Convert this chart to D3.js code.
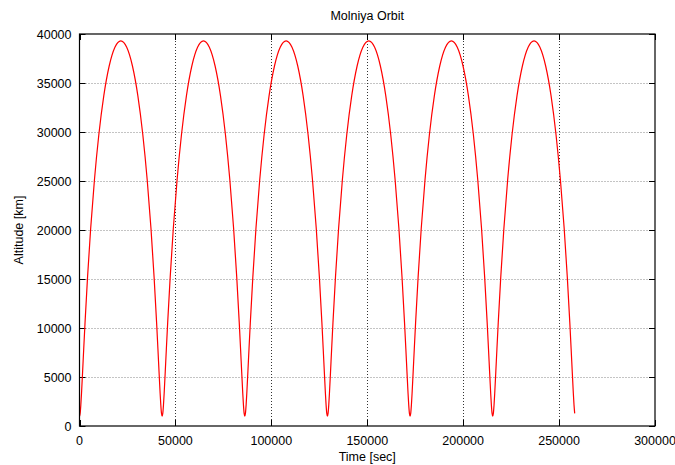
<!DOCTYPE html>
<html>
<head>
<meta charset="utf-8">
<script src="https://cdn.jsdelivr.net/npm/d3@7"></script>
<style>
  body { margin: 0; background: #fff; }
  svg { font-family: "Liberation Sans", Arial, sans-serif; }
</style>
</head>
<body>
<div id="chart"></div>
<script>
// time since start [sec], one line per orbit
const timeSec = [
  0, 337, 700, 1115, 1885, 2893, 4194, 5820, 7784, 10073, 12655, 15475, 18464, 21540, 24616, 27605, 30425, 33007, 35296, 37260, 38886, 40187, 41195, 41965, 42380, 42743,
  43080, 43417, 43780, 44195, 44965, 45973, 47274, 48900, 50864, 53153, 55735, 58555, 61544, 64620, 67696, 70685, 73505, 76087, 78376, 80340, 81966, 83267, 84275, 85045, 85460, 85823,
  86160, 86497, 86860, 87275, 88045, 89053, 90354, 91980, 93944, 96233, 98815, 101635, 104624, 107700, 110776, 113765, 116585, 119167, 121456, 123420, 125046, 126347, 127355, 128125, 128540, 128903,
  129240, 129577, 129940, 130355, 131125, 132133, 133434, 135060, 137024, 139313, 141895, 144715, 147704, 150780, 153856, 156845, 159665, 162247, 164536, 166500, 168126, 169427, 170435, 171205, 171620, 171983,
  172320, 172657, 173020, 173435, 174205, 175213, 176514, 178140, 180104, 182393, 184975, 187795, 190784, 193860, 196936, 199925, 202745, 205327, 207616, 209580, 211206, 212507, 213515, 214285, 214700, 215063,
  215400, 215737, 216100, 216515, 217285, 218293, 219594, 221220, 223184, 225473, 228055, 230875, 233864, 236940, 240016, 243005, 245825, 248407, 250696, 252660, 254286, 255587, 256595, 257365, 257780, 258143
];

// altitude [km]
const altitudeKm = [
  999, 1290, 2154, 3565, 6609, 10575, 15194, 20150, 25107, 29725, 33692, 36735, 38648, 39300, 38648, 36735, 33692, 29725, 25107, 20150, 15194, 10575, 6609, 3565, 2154, 1290,
  999, 1290, 2154, 3565, 6609, 10575, 15194, 20150, 25107, 29725, 33692, 36735, 38648, 39300, 38648, 36735, 33692, 29725, 25107, 20150, 15194, 10575, 6609, 3565, 2154, 1290,
  999, 1290, 2154, 3565, 6609, 10575, 15194, 20150, 25107, 29725, 33692, 36735, 38648, 39300, 38648, 36735, 33692, 29725, 25107, 20150, 15194, 10575, 6609, 3565, 2154, 1290,
  999, 1290, 2154, 3565, 6609, 10575, 15194, 20150, 25107, 29725, 33692, 36735, 38648, 39300, 38648, 36735, 33692, 29725, 25107, 20150, 15194, 10575, 6609, 3565, 2154, 1290,
  999, 1290, 2154, 3565, 6609, 10575, 15194, 20150, 25107, 29725, 33692, 36735, 38648, 39300, 38648, 36735, 33692, 29725, 25107, 20150, 15194, 10575, 6609, 3565, 2154, 1290,
  999, 1290, 2154, 3565, 6609, 10575, 15194, 20150, 25107, 29725, 33692, 36735, 38648, 39300, 38648, 36735, 33692, 29725, 25107, 20150, 15194, 10575, 6609, 3565, 2154, 1290
];

const xTicks = [0, 50000, 100000, 150000, 200000, 250000, 300000];
const yTicks = [0, 5000, 10000, 15000, 20000, 25000, 30000, 35000, 40000];

const title = 'Molniya Orbit';
const xLabel = 'Time [sec]';
const yLabel = 'Altitude [km]';

const width = 675;
const height = 465;
const margin = {top: 34, right: 20, bottom: 39, left: 79.5};

const svg = d3.select('#chart').append('svg')
  .attr('width', width)
  .attr('height', height);

const x = d3.scaleLinear().domain([0, 300000]).range([margin.left, width - margin.right]);
const y = d3.scaleLinear().domain([0, 40000]).range([height - margin.bottom, margin.top]);

// grid
svg.append('g')
  .selectAll('line')
  .data(yTicks.slice(1, -1))
  .enter()
  .append('line')
  .attr('x1', x(0)).attr('x2', x(300000))
  .attr('y1', d => Math.round(y(d)) + 0.5).attr('y2', d => Math.round(y(d)) + 0.5)
  .attr('stroke', '#888')
  .attr('stroke-dasharray', '1,2');

svg.append('g')
  .selectAll('line')
  .data(xTicks.slice(1, -1))
  .enter()
  .append('line')
  .attr('x1', d => Math.round(x(d)) + 0.5).attr('x2', d => Math.round(x(d)) + 0.5)
  .attr('y1', y(0)).attr('y2', y(40000))
  .attr('stroke', '#333')
  .attr('stroke-dasharray', '1,2');

// ticks (inward, mirrored)
const tickLen = 6;
const ticks = svg.append('g').attr('stroke', '#000').attr('stroke-width', 1);
xTicks.forEach(function(d) {
  const px = Math.round(x(d)) + 0.5;
  ticks.append('line').attr('x1', px).attr('x2', px).attr('y1', y(0)).attr('y2', y(0) - tickLen);
  ticks.append('line').attr('x1', px).attr('x2', px).attr('y1', y(40000)).attr('y2', y(40000) + tickLen);
});
yTicks.forEach(function(d) {
  const py = Math.round(y(d)) + 0.5;
  ticks.append('line').attr('x1', x(0)).attr('x2', x(0) + tickLen).attr('y1', py).attr('y2', py);
  ticks.append('line').attr('x1', x(300000)).attr('x2', x(300000) - tickLen).attr('y1', py).attr('y2', py);
});

// tick labels
svg.append('g')
  .selectAll('text')
  .data(xTicks)
  .enter()
  .append('text')
  .attr('x', d => x(d))
  .attr('y', y(0) + 19)
  .attr('text-anchor', 'middle')
  .attr('font-size', 12.5)
  .text(d => d);

svg.append('g')
  .selectAll('text')
  .data(yTicks)
  .enter()
  .append('text')
  .attr('x', x(0) - 8)
  .attr('y', d => y(d) + 4.5)
  .attr('text-anchor', 'end')
  .attr('font-size', 12.5)
  .text(d => d);

// curve
const line = d3.line()
  .x((d, i) => x(timeSec[i]))
  .y(d => y(d))
  .curve(d3.curveMonotoneX);

svg.append('path')
  .datum(altitudeKm)
  .attr('fill', 'none')
  .attr('stroke', '#ff0000')
  .attr('stroke-width', 1.2)
  .attr('d', line);

// frame
svg.append('rect')
  .attr('x', x(0))
  .attr('y', y(40000))
  .attr('width', x(300000) - x(0))
  .attr('height', y(0) - y(40000))
  .attr('fill', 'none')
  .attr('stroke', '#000')
  .attr('stroke-width', 1.2);

// labels
svg.append('text')
  .attr('x', (x(0) + x(300000)) / 2)
  .attr('y', 19.5)
  .attr('text-anchor', 'middle')
  .attr('font-size', 12.5)
  .text(title);

svg.append('text')
  .attr('x', (x(0) + x(300000)) / 2)
  .attr('y', 461)
  .attr('text-anchor', 'middle')
  .attr('font-size', 12.5)
  .text(xLabel);

svg.append('text')
  .attr('transform', 'translate(23,' + ((y(0) + y(40000)) / 2) + ') rotate(-90)')
  .attr('text-anchor', 'middle')
  .attr('font-size', 12.5)
  .text(yLabel);
</script>
</body>
</html>
